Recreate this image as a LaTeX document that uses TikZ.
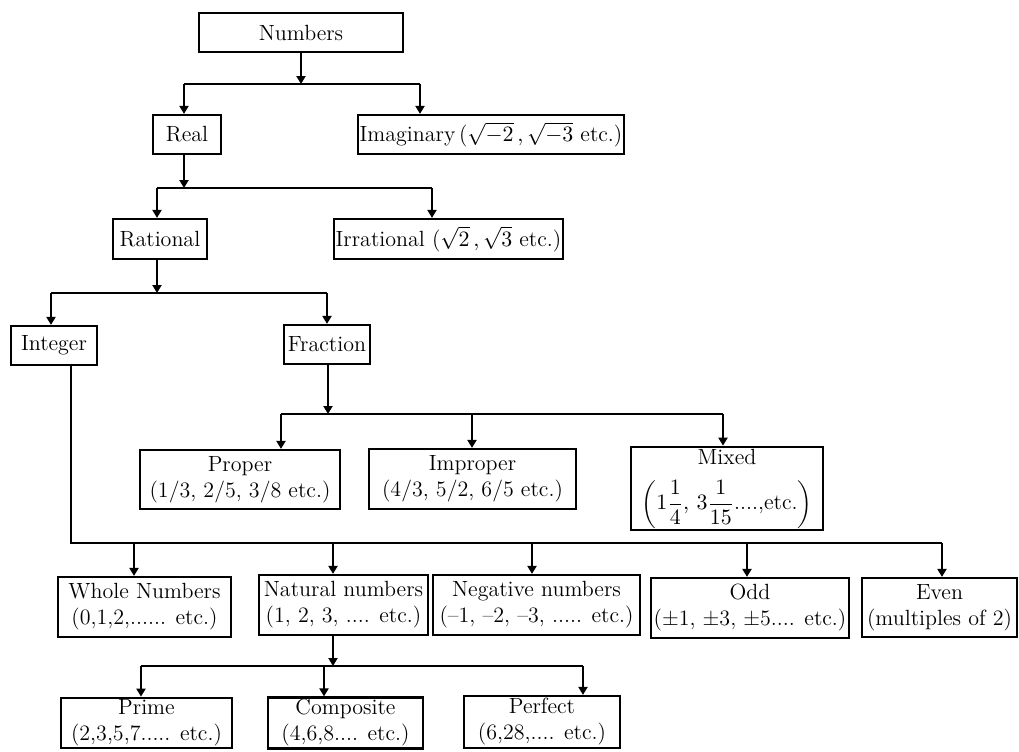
\documentclass[tikz,border=0pt]{standalone}
\usepackage{fontspec}
\usetikzlibrary{arrows.meta}
\tikzset{
  bx/.style={draw, line width=1.1pt, inner sep=1pt, align=center, font=\fontsize{11}{13}\selectfont},
  ln/.style={line width=1pt},
  arr/.style={ln, -{Triangle[length=4pt,width=4.5pt]}},
}
\begin{document}
\begin{tikzpicture}[x=0.5pt,y=-0.5pt]
\useasboundingbox (0,0) rectangle (1019,751);
% nodes
\node[bx, minimum width=102pt, minimum height=19.5pt] (num) at (301,32.5) {Numbers};
\node[bx, minimum width=34pt, minimum height=19.5pt] (real) at (187,134.5) {Real};
\node[bx, minimum width=133pt, minimum height=19.5pt] (imag) at (491,134.5) {Imaginary\,($\sqrt{-2}\,,\sqrt{-3}$ etc.)};
\node[bx, minimum width=47pt, minimum height=20pt] (rat) at (160,239) {Rational};
\node[bx, minimum width=94.5pt, minimum height=20pt] (irr) at (448.5,239) {Irrational ($\sqrt{2}\,,\sqrt{3}$ etc.)};
\node[bx, minimum width=43pt, minimum height=19.5pt] (int) at (54,345.5) {Integer};
\node[bx, minimum width=43pt, minimum height=19.5pt] (frac) at (327,344.5) {Fraction};
\node[bx, minimum width=100pt, minimum height=29.5pt] (proper) at (240,479.5) {Proper\\(1/3, 2/5, 3/8 etc.)};
\node[bx, minimum width=103.5pt, minimum height=30pt] (improper) at (472.5,479) {Improper\\(4/3, 5/2, 6/5 etc.)};
\node[bx, minimum width=96pt, minimum height=40.5pt] (mixed) at (727,488.5) {Mixed\\[7pt]$\displaystyle\left(1\frac{1}{4},\,3\frac{1}{15}\mbox{....,etc.}\right)$};
\node[bx, minimum width=86.5pt, minimum height=30pt] (whole) at (144.5,607) {Whole Numbers\\(0,1,2,...... etc.)};
\node[bx, minimum width=84.5pt, minimum height=30pt] (natural) at (343.5,605) {Natural numbers\\(1, 2, 3, .... etc.)};
\node[bx, minimum width=103.5pt, minimum height=30pt] (negative) at (536.5,605) {Negative numbers\\(--1, --2, --3, ..... etc.)};
\node[bx, minimum width=99pt, minimum height=30pt] (odd) at (750,608) {Odd\\(±1, ±3, ±5.... etc.)};
\node[bx, minimum width=77.5pt, minimum height=29.5pt] (even) at (939.5,607.5) {Even\\(multiples of 2)};
\node[bx, minimum width=85.5pt, minimum height=25pt] (prime) at (146.5,723) {Prime\\(2,3,5,7..... etc.)};
\node[bx, minimum width=77.5pt, minimum height=25pt] (composite) at (345.5,723) {Composite\\(4,6,8.... etc.)};
\node[bx, minimum width=78pt, minimum height=26pt] (perfect) at (542,722) {Perfect\\(6,28,.... etc.)};
% level 1
\coordinate (j1) at (301,84);
\coordinate (j1L) at (184,84);
\coordinate (j1R) at (420,84);
\draw[arr] (num.south) -- (j1);
\draw[ln] (j1L) -- (j1R);
\draw[arr] (j1L) -- (j1L |- real.north);
\draw[arr] (j1R) -- (j1R |- imag.north);
% level 2
\coordinate (j2) at (184,188);
\coordinate (j2L) at (157,188);
\coordinate (j2R) at (432,188);
\draw[arr] (j2 |- real.south) -- (j2);
\draw[ln] (j2L) -- (j2R);
\draw[arr] (j2L) -- (j2L |- rat.north);
\draw[arr] (j2R) -- (j2R |- irr.north);
% level 3
\coordinate (j3) at (157,293);
\coordinate (j3L) at (51,293);
\coordinate (j3R) at (327,293);
\draw[arr] (j3 |- rat.south) -- (j3);
\draw[ln] (j3L) -- (j3R);
\draw[arr] (j3L) -- (j3L |- int.north);
\draw[arr] (j3R) -- (j3R |- frac.north);
% fraction branch
\coordinate (j4) at (328,414);
\coordinate (j4L) at (281,414);
\coordinate (j4M) at (472,414);
\coordinate (j4R) at (723,414);
\draw[arr] (j4 |- frac.south) -- (j4);
\draw[ln] (j4L) -- (j4R);
\draw[arr] (j4L) -- (j4L |- proper.north);
\draw[arr] (j4M) -- (j4M |- improper.north);
\draw[arr] (j4R) -- (j4R |- mixed.north);
% integer branch
\coordinate (j5) at (71,543);
\coordinate (j5a) at (134,543);
\coordinate (j5b) at (333,543);
\coordinate (j5c) at (532,543);
\coordinate (j5d) at (747,543);
\coordinate (j5e) at (942,543);
\draw[ln] (j5 |- int.south) -- (j5) -- (j5e);
\draw[arr] (j5a) -- (j5a |- whole.north);
\draw[arr] (j5b) -- (j5b |- natural.north);
\draw[arr] (j5c) -- (j5c |- negative.north);
\draw[arr] (j5d) -- (j5d |- odd.north);
\draw[arr] (j5e) -- (j5e |- even.north);
% natural branch
\coordinate (j6) at (333,666);
\coordinate (j6L) at (141,666);
\coordinate (j6M) at (324,666);
\coordinate (j6R) at (583,666);
\draw[arr] (j6 |- natural.south) -- (j6);
\draw[ln] (j6L) -- (j6R);
\draw[arr] (j6L) -- (j6L |- prime.north);
\draw[arr] (j6M) -- (j6M |- composite.north);
\draw[arr] (j6R) -- (j6R |- perfect.north);
\end{tikzpicture}
\end{document}
